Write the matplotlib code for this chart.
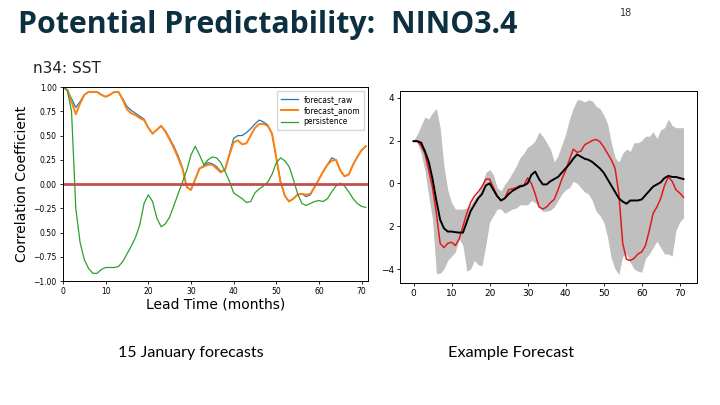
import numpy as np
import matplotlib.pyplot as plt

# lead time in months
lead = np.arange(72)

forecast_raw = [1.00, 0.97, 0.88, 0.79, 0.85, 0.92, 0.95, 0.95, 0.95, 0.92,
                0.90, 0.92, 0.95, 0.95, 0.88, 0.80, 0.76, 0.73, 0.70, 0.67,
                0.58, 0.52, 0.56, 0.60, 0.55, 0.47, 0.39, 0.29, 0.17, -0.03,
                -0.06, 0.05, 0.16, 0.19, 0.22, 0.21, 0.18, 0.13, 0.15, 0.31,
                0.47, 0.50, 0.50, 0.53, 0.57, 0.62, 0.66, 0.64, 0.61, 0.52,
                0.27, 0.02, -0.12, -0.18, -0.15, -0.11, -0.10, -0.13, -0.11, -0.03,
                0.05, 0.13, 0.20, 0.27, 0.25, 0.14, 0.08, 0.10, 0.20, 0.28,
                0.35, 0.39]
forecast_anom = [1.00, 0.97, 0.85, 0.72, 0.83, 0.92, 0.95, 0.95, 0.95, 0.92,
                 0.90, 0.92, 0.95, 0.95, 0.87, 0.77, 0.73, 0.71, 0.68, 0.66,
                 0.58, 0.52, 0.56, 0.60, 0.54, 0.46, 0.37, 0.27, 0.16, -0.03,
                 -0.06, 0.05, 0.16, 0.18, 0.20, 0.20, 0.16, 0.12, 0.15, 0.30,
                 0.43, 0.45, 0.41, 0.42, 0.50, 0.58, 0.62, 0.62, 0.60, 0.52,
                 0.27, 0.02, -0.12, -0.18, -0.15, -0.11, -0.10, -0.11, -0.10, -0.03,
                 0.05, 0.13, 0.20, 0.24, 0.25, 0.14, 0.08, 0.10, 0.20, 0.28,
                 0.35, 0.39]
persistence = [1.00, 0.97, 0.75, -0.25, -0.60, -0.78, -0.87, -0.92, -0.92, -0.88,
               -0.86, -0.86, -0.86, -0.85, -0.80, -0.72, -0.64, -0.55, -0.42, -0.20,
               -0.11, -0.18, -0.35, -0.44, -0.41, -0.34, -0.22, -0.10, 0.02, 0.14,
               0.30, 0.39, 0.30, 0.20, 0.25, 0.28, 0.27, 0.22, 0.13, 0.03,
               -0.09, -0.12, -0.15, -0.19, -0.18, -0.09, -0.05, -0.02, 0.02, 0.10,
               0.22, 0.27, 0.24, 0.18, 0.05, -0.10, -0.20, -0.22, -0.20, -0.18,
               -0.17, -0.18, -0.15, -0.08, -0.02, 0.01, -0.02, -0.08, -0.15, -0.20,
               -0.23, -0.24]

ens_mean = [1.97, 1.97, 1.90, 1.50, 1.00, 0.20, -0.80, -1.70, -2.10, -2.25,
            -2.25, -2.28, -2.30, -2.30, -1.80, -1.30, -1.00, -0.70, -0.50, -0.10,
            0.00, -0.30, -0.60, -0.80, -0.70, -0.50, -0.35, -0.25, -0.15, -0.10,
            0.00, 0.40, 0.55, 0.20, -0.05, -0.05, 0.10, 0.20, 0.30, 0.50,
            0.70, 0.90, 1.15, 1.35, 1.25, 1.15, 1.10, 1.00, 0.85, 0.70,
            0.50, 0.20, -0.10, -0.40, -0.70, -0.85, -0.95, -0.80, -0.80, -0.80,
            -0.75, -0.55, -0.35, -0.15, -0.05, 0.05, 0.25, 0.35, 0.30, 0.30,
            0.25, 0.20]
observed = [1.97, 1.97, 1.75, 1.40, 0.60, -0.20, -1.40, -2.80, -3.00, -2.80,
            -2.75, -2.90, -2.60, -2.00, -1.40, -0.90, -0.60, -0.40, -0.15, 0.20,
            0.20, -0.20, -0.60, -0.80, -0.70, -0.30, -0.25, -0.20, -0.10, -0.10,
            0.25, 0.00, -0.50, -1.10, -1.20, -1.10, -0.90, -0.75, -0.30, 0.20,
            0.60, 1.10, 1.60, 1.45, 1.50, 1.80, 1.90, 2.00, 2.05, 1.95,
            1.70, 1.40, 1.10, 0.70, -0.50, -2.80, -3.55, -3.60, -3.50, -3.30,
            -3.20, -2.90, -2.20, -1.40, -1.10, -0.70, -0.10, 0.30, 0.10, -0.30,
            -0.45, -0.65]
spread_hi = [2.0, 2.3, 2.7, 3.1, 3.0, 3.3, 3.5, 2.6, 0.8, -0.3,
             -0.9, -1.2, -1.2, -1.2, -1.15, -1.0, -0.7, -0.5, -0.1, 0.5,
             0.65, 0.4, -0.2, -0.35, -0.05, 0.2, 0.5, 0.8, 1.2, 1.4,
             1.7, 1.8, 2.0, 2.4, 2.2, 1.9, 1.6, 1.0, 1.3, 1.8,
             2.3, 3.0, 3.5, 3.9, 3.9, 3.8, 3.9, 3.85, 3.6, 3.5,
             3.2, 2.8, 1.9, 1.2, 1.0, 1.4, 1.6, 1.5, 1.9, 1.9,
             2.0, 2.2, 2.2, 2.4, 2.1, 2.5, 2.6, 3.0, 2.7, 2.6,
             2.6, 2.6]
spread_lo = [2.0, 1.9, 1.4, 0.6, -0.6, -1.7, -4.2, -4.2, -4.0, -3.6,
             -3.4, -3.2, -2.6, -2.9, -4.1, -4.0, -3.6, -3.8, -3.85, -2.9,
             -1.8, -1.5, -1.2, -1.2, -1.4, -1.3, -1.2, -1.15, -1.0, -1.0,
             -1.0, -0.8, -0.9, -1.1, -1.3, -1.3, -1.25, -1.1, -0.8, -0.5,
             -0.3, -0.2, 0.1, 0.0, -0.2, -0.4, -0.5, -0.8, -1.3, -1.5,
             -1.8, -2.5, -3.5, -4.0, -4.25, -3.4, -3.3, -3.7, -4.0, -4.1,
             -4.15, -3.5, -3.3, -3.0, -2.7, -3.0, -3.3, -3.3, -3.4, -2.2,
             -1.8, -1.6]

left_yticks = [1.0, 0.75, 0.5, 0.25, 0.0, -0.25, -0.5, -0.75, -1.0]
left_ylabels = ['1.00', '0.75', '0.50', '0.25', '0.00', '\u22120.25', '0.50', '\u22120.75', '\u22121.00']
right_yticks = [4, 2, 0, -2, -4]
right_ylabels = ['4', '2', '0', '2', '\u22124']
xticks = [0, 10, 20, 30, 40, 50, 60, 70]

fig = plt.figure(figsize=(7.2, 4.05), dpi=100)

fig.text(0.025, 0.938, 'Potential Predictability:  NINO3.4', fontsize=21.8, fontweight='bold',
         family='Open Sans', color='#0c3040', va='center', ha='left')
fig.text(0.861, 0.968, '18', fontsize=7, color='#333333', va='center', ha='left')
fig.text(0.046, 0.832, 'n34: SST', fontsize=11, color='#222222', va='center', ha='left')

# left panel
ax1 = fig.add_axes([0.0875, 0.306, 0.4236, 0.479])
ax1.plot(lead, forecast_raw, color='#1f77b4', lw=0.9, label='forecast_raw')
ax1.plot(lead, forecast_anom, color='#ff7f0e', lw=1.4, label='forecast_anom')
ax1.plot(lead, persistence, color='#2ca02c', lw=0.9, label='persistence')
ax1.plot([0, 71], [0, 0], color='#c0504d', lw=2)
ax1.set_xlim(0, 71.5)
ax1.set_ylim(-1, 1)
ax1.set_yticks(left_yticks)
ax1.set_yticklabels(left_ylabels)
ax1.set_xticks(xticks)
ax1.tick_params(labelsize=5.5, length=2.5, width=0.6, pad=2)
ax1.set_ylabel('Correlation Coefficient', fontsize=10, labelpad=3)
ax1.set_xlabel('Lead Time (months)', fontsize=10, labelpad=1)
for s in ax1.spines.values():
    s.set_linewidth(0.7)
ax1.legend(loc='upper right', fontsize=5.5, frameon=True, handlelength=2.2,
           borderpad=0.5, labelspacing=0.3, fancybox=False)

# right panel
ax2 = fig.add_axes([0.5556, 0.301, 0.4125, 0.474])
ax2.fill_between(lead, spread_lo, spread_hi, color='#bfbfbf', lw=0)
ax2.plot(lead, observed, color='#e3191c', lw=1.1)
ax2.plot(lead, ens_mean, color='black', lw=1.4)
ax2.set_yticks(right_yticks)
ax2.set_yticklabels(right_ylabels)
ax2.set_xticks(xticks)
ax2.tick_params(labelsize=6.5, length=2.5, width=0.6, pad=2)
for s in ax2.spines.values():
    s.set_linewidth(0.7)

fig.text(0.265, 0.128, '15 January forecasts', fontsize=11.5, family='Lato', ha='center', va='center')
fig.text(0.710, 0.128, 'Example Forecast', fontsize=11.7, family='Lato', ha='center', va='center')

plt.savefig('out.png', dpi=100)
